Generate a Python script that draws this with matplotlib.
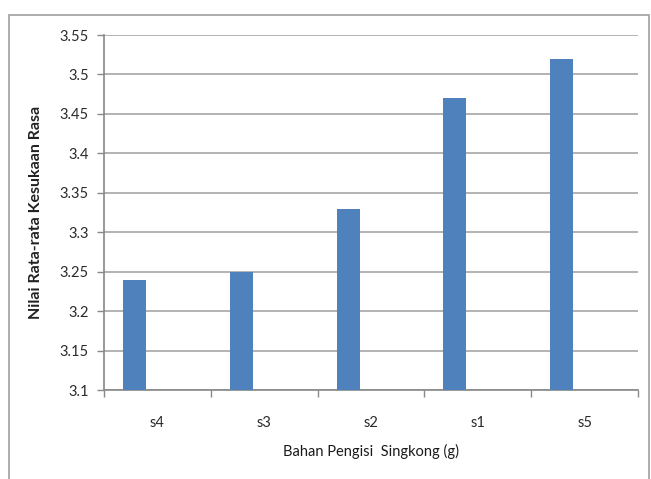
import matplotlib.pyplot as plt
from matplotlib.patches import Rectangle
import numpy as np

categories = ['s4', 's3', 's2', 's1', 's5']
values = [3.24, 3.25, 3.33, 3.47, 3.52]
y_ticks = [3.1, 3.15, 3.2, 3.25, 3.3, 3.35, 3.4, 3.45, 3.5, 3.55]

plt.rcParams['font.family'] = ['Lato', 'DejaVu Sans']

fig = plt.figure(figsize=(6.51, 4.79), dpi=100)
# chart area frame, open at the bottom
fig.patches.append(Rectangle((9 / 651, -0.1), 640 / 651, 1.1 - 15 / 479,
                             transform=fig.transFigure, fill=False,
                             edgecolor='#a0a0a0', linewidth=1.2))

ax = fig.add_axes([104 / 651, 89 / 479, 534 / 651, 355 / 479])

x = np.arange(len(categories))
bar_w = 0.215
ax.bar(x - bar_w, values, width=bar_w, color='#4f81bd', zorder=3)

ax.set_xlim(-0.5, len(categories) - 0.5)
ax.set_ylim(3.1, 3.55)
ax.set_yticks(y_ticks)
ax.set_yticklabels([f'{v:g}' for v in y_ticks])
ax.yaxis.grid(True, color='#a6a6a6', linewidth=1.2, zorder=0)

ax.set_xticks(x)
ax.set_xticklabels(categories)
ax.set_xticks(np.arange(len(categories) + 1) - 0.5, minor=True)
ax.tick_params(axis='x', which='major', length=0, pad=19, labelsize=10.5, colors='#2a2a2a')
ax.tick_params(axis='x', which='minor', length=5, color='#888888', width=1)
ax.tick_params(axis='y', length=5, color='#888888', width=1, labelsize=10.5,
               colors='#2a2a2a', pad=6)

for side in ['top', 'right']:
    ax.spines[side].set_visible(False)
for side in ['left', 'bottom']:
    ax.spines[side].set_color('#888888')
    ax.spines[side].set_linewidth(1.2)

ax.set_ylabel('Nilai Rata-rata Kesukaan Rasa', fontsize=11.5, fontweight='bold',
              color='#222222', labelpad=12)
ax.set_xlabel('Bahan Pengisi  Singkong (g)', fontsize=10.5, color='#1a1a1a', labelpad=10)

fig.savefig('out.png', dpi=100)
